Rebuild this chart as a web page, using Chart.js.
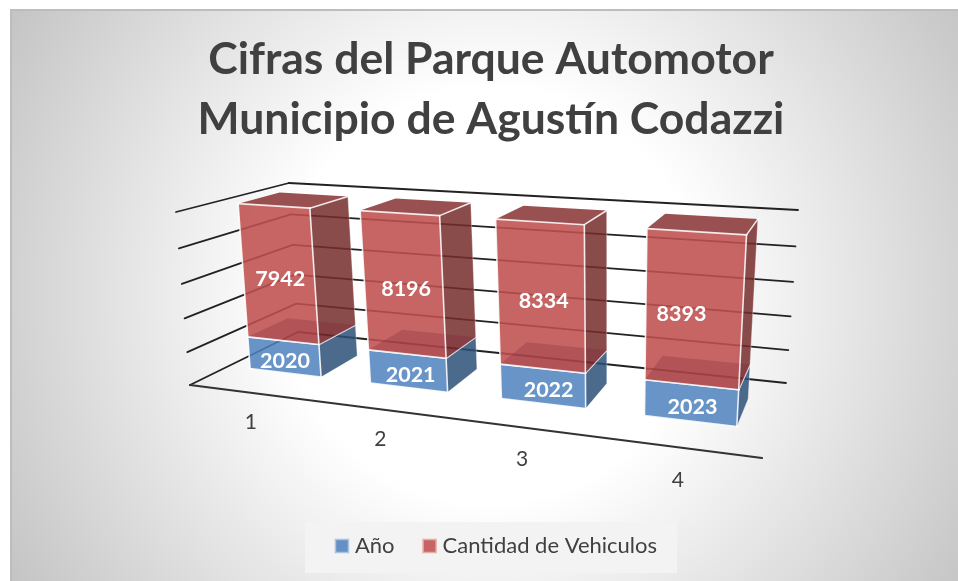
<!DOCTYPE html>
<html><head><meta charset="utf-8">
<style>
html,body{margin:0;padding:0;width:958px;height:581px;overflow:hidden;background:#fff}
#wrap{position:absolute;left:10px;top:9px;width:962px;height:572px;
 box-shadow:inset 2px 2px 0 #bdbdbd;
 background:radial-gradient(circle 560px at 481px 286px,#fff 0%,#fff 37%,#c4c4c4 100%)}
canvas{position:absolute;left:0;top:0}
</style>
<script src="https://cdn.jsdelivr.net/npm/chart.js@4"></script>
</head><body><div id="wrap"><canvas id="c" width="962" height="572"></canvas></div>
<script>
const categories=["1","2","3","4"];
const anos=[2020,2021,2022,2023];
const cantidad=[7942,8196,8334,8393];
const titleLines=["Cifras del Parque Automotor","Municipio de Agustín Codazzi"];
const yMax=10000, yStep=2000;
const labelNudge=[[1,3,6,2],[2,3,3,-12]];

// box corners of the perspective frame, in canvas pixels (page minus 10,9)
const O={x:-10,y:-9};
const P=(x,y)=>[x+O.x,y+O.y];
const floorQ=[P(190,385),P(762,458),P(786,383),P(298,332)];
const topQ=[P(176,212),P(775,253),P(798,210),P(289,183)];
const zFront=0.32,zBack=0.7,barShiftU=-0.003;
function homog(q){
 const [[x0,y0],[x1,y1],[x2,y2],[x3,y3]]=q;
 const dx1=x1-x2,dx2=x3-x2,sx=x0-x1+x2-x3,dy1=y1-y2,dy2=y3-y2,sy=y0-y1+y2-y3;
 const d=dx1*dy2-dx2*dy1;
 const g=(sx*dy2-dx2*sy)/d,h=(dx1*sy-sx*dy1)/d;
 const a=x1-x0+g*x1,b=x3-x0+h*x3,c=x0,e=y1-y0+g*y1,f=y3-y0+h*y3,i=y0;
 return (u,v)=>{const w=g*u+h*v+1;return [(a*u+b*v+c)/w,(e*u+f*v+i)/w];};
}
const hF=homog(floorQ),hT=homog(topQ);
const proj=(u,z,h)=>{
 const t=h/(1+0.066*(1-h));
 const a=hF(u,z),b=hT(u,z);return [a[0]+(b[0]-a[0])*t,a[1]+(b[1]-a[1])*t];
};

function poly(ctx,pts,fill){ctx.beginPath();pts.forEach((p,i)=>i?ctx.lineTo(p[0],p[1]):ctx.moveTo(p[0],p[1]));ctx.closePath();if(fill){ctx.fillStyle=fill;ctx.fill();}}
function seg(ctx,a,b){ctx.beginPath();ctx.moveTo(a[0],a[1]);ctx.lineTo(b[0],b[1]);ctx.stroke();}

const faces=[
 {front:'rgba(79,129,189,.85)',side:'rgba(43,80,120,.85)',top:null,key:'#6590c5',keyEdge:'#a9c3e2'},
 {front:'rgba(190,80,78,.88)',side:'rgba(118,44,44,.85)',top:'rgba(135,49,49,.85)',key:'#c66563',keyEdge:'#e6adab'}
];
const plugin3d={id:'p3d',
 afterLayout(chart){
  const lg=chart.legend;lg.left+=5;lg.right+=5;lg.legendHitBoxes.forEach(b=>{b.left+=5;});
 },
 beforeDraw(chart){
  const b=chart.legend.legendHitBoxes;
  const l=Math.min(...b.map(r=>r.left)),r=Math.max(...b.map(r=>r.left+r.width)),t=b[0].top;
  const ctx=chart.ctx;ctx.save();ctx.fillStyle='#f3f3f3';ctx.fillRect(l-30,t-13,r-l+50,51);ctx.restore();
 },
 afterDraw(chart){
  const ctx=chart.ctx;ctx.save();
  chart.legend.legendHitBoxes.forEach((b,i)=>{
   const f=faces[i],cy=b.top+b.height/2;
   ctx.fillStyle=f.key;ctx.strokeStyle=f.keyEdge;ctx.lineWidth=1.5;
   ctx.fillRect(b.left+.5,cy-6.5,13,13);ctx.strokeRect(b.left+.5,cy-6.5,13,13);
  });
  ctx.restore();
 },
 beforeDatasetsDraw(chart){
  const ctx=chart.ctx,ca=chart.chartArea,ys=chart.scales.y,xs=chart.scales.x;
  const U=x=>(x-ca.left)/(ca.right-ca.left);
  const H=y=>Math.min(1,(ca.bottom-y)/(ca.bottom-ca.top));
  ctx.save();ctx.lineCap='round';
  // walls
  ys.ticks.forEach(t=>{
   const h=H(ys.getPixelForValue(t.value));
   ctx.strokeStyle='#222';ctx.lineWidth=1.8;
   seg(ctx,proj(0,0,h),proj(0,1,h));seg(ctx,proj(0,1,h),proj(1,1,h));
  });
  ctx.strokeStyle='#333';ctx.lineWidth=2.2;seg(ctx,proj(0,0,0),proj(1,0,0));
  // axis labels
  ctx.fillStyle='#404040';ctx.font='21px Lato';ctx.textAlign='center';ctx.textBaseline='middle';
  categories.forEach((c,i)=>{
   const p=proj(0.066+0.945*U(xs.getPixelForValue(i)),-0.25,-0.045);ctx.fillText(c,p[0],p[1]);
  });
  // bars
  categories.forEach((c,i)=>{
   chart.data.datasets.forEach((ds,d)=>{
    const el=chart.getDatasetMeta(d).data[i];
    const u0=U(el.x-el.width/2)+barShiftU,u1=U(el.x+el.width/2)+barShiftU,h0=H(el.base),h1=H(el.y);
    const f=faces[d];
    const A=proj(u0,zFront,h0),B=proj(u1,zFront,h0),C=proj(u1,zFront,h1),D=proj(u0,zFront,h1);
    const E=proj(u1,zBack,h0),F=proj(u1,zBack,h1),G=proj(u0,zBack,h1),K=proj(u0,zBack,h0);
    poly(ctx,[B,E,F,C],f.side);
    if(f.top)poly(ctx,[D,C,F,G],f.top);
    poly(ctx,[A,B,C,D],f.front);
    if(d===1)poly(ctx,[A,B,E,K],'rgba(120,30,50,.25)');
    ctx.strokeStyle='rgba(255,255,255,.85)';ctx.lineWidth=1.6;
    seg(ctx,A,B);seg(ctx,B,C);seg(ctx,C,D);seg(ctx,D,A);seg(ctx,C,F);
    ctx.strokeStyle='rgba(255,255,255,.35)';ctx.lineWidth=1;
    seg(ctx,E,F);seg(ctx,B,E);
    const m=proj((u0+u1)/2,zFront,(h0+h1)/2);
    ctx.fillStyle='#fff';ctx.font='bold 21.5px Lato';
    ctx.fillText(String(ds.data[i]),m[0]+labelNudge[d][i],m[1]+4);
   });
  });
  ctx.restore();
  return false;
 }
};
new Chart(document.getElementById('c'),{
 type:'bar',
 data:{labels:categories,datasets:[
  {label:'Año',data:anos,backgroundColor:'rgba(0,0,0,0)',borderColor:'rgba(0,0,0,0)',borderWidth:0,stack:'s'},
  {label:'Cantidad de Vehiculos',data:cantidad,backgroundColor:'rgba(0,0,0,0)',borderColor:'rgba(0,0,0,0)',borderWidth:0,stack:'s'}
 ]},
 plugins:[plugin3d],
 options:{
  responsive:false,animation:false,
  layout:{padding:{bottom:14}},
  datasets:{bar:{categoryPercentage:0.6,barPercentage:1}},
  scales:{
   x:{display:false,stacked:true},
   y:{display:false,stacked:true,min:0,max:yMax,ticks:{stepSize:yStep}}
  },
  plugins:{
   tooltip:{enabled:false},
   title:{display:true,text:titleLines,color:'#404040',font:{family:'Lato',size:44.5,weight:'bold',lineHeight:1.345},padding:{top:21,bottom:10}},
   legend:{position:'bottom',labels:{boxWidth:9,boxHeight:14,padding:28,color:'#404040',font:{family:'Lato',size:22}}}
  }
 }
});
</script></body></html>
